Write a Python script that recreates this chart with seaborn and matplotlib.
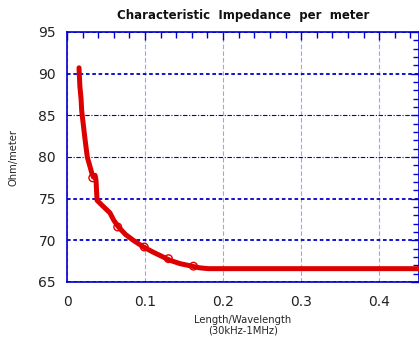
import matplotlib
matplotlib.use("Agg")
import matplotlib.pyplot as plt
import numpy as np
import pandas as pd
import seaborn as sns
from matplotlib.ticker import MultipleLocator

# curve (length/wavelength vs ohm/meter)
length_ratio = [0.0154, 0.0165, 0.0180, 0.0188, 0.0195, 0.0210, 0.0230, 0.0260,
                0.0290, 0.0320, 0.0338, 0.0360, 0.0372, 0.0385, 0.0450, 0.0550,
                0.0600, 0.0660, 0.0750, 0.0850, 0.0980, 0.1100, 0.1320, 0.1450,
                0.1600, 0.1700, 0.1810, 0.2500, 0.3000, 0.3500, 0.4000, 0.4600]
impedance = [90.7, 88.5, 87.0, 85.6, 85.0, 83.8, 82.2, 80.0,
             79.0, 78.0, 77.6, 77.8, 77.2, 74.8, 74.2, 73.3,
             72.4, 71.6, 70.7, 70.0, 69.2, 68.6, 67.6, 67.2,
             66.9, 66.7, 66.6, 66.6, 66.6, 66.6, 66.6, 66.6]

# circle markers seen along the curve
marker_x = [0.033, 0.065, 0.099, 0.130, 0.162]
marker_y = [77.5, 71.6, 69.2, 67.8, 66.9]

y_ticks = [65, 70, 75, 80, 85, 90, 95]
x_ticks = [0, 0.1, 0.2, 0.3, 0.4]
thin_grid = [80, 85]  # these two gridlines are drawn lighter in the original

sns.set_style("white")
plt.rcParams['font.family'] = ['DejaVu Sans']

fig = plt.figure(figsize=(4.19, 3.37), dpi=100)
ax = fig.add_axes([67 / 419, 1 - 282 / 337, (419 - 67) / 419, (282 - 32) / 337])

curve = pd.DataFrame({"x": length_ratio, "y": impedance})
sns.lineplot(data=curve, x="x", y="y", ax=ax, color="#dd0000", lw=3.6,
             sort=False, zorder=3)
sns.scatterplot(x=marker_x, y=marker_y, ax=ax, marker="o", s=30,
                facecolor="none", edgecolor="#dd0000", linewidth=1, zorder=4)

ax.set_xlim(0, 0.451)
ax.set_ylim(65, 95)
ax.set_xticks(x_ticks)
ax.set_xticklabels(["0", "0.1", "0.2", "0.3", "0.4"])
ax.set_yticks(y_ticks)
ax.xaxis.set_minor_locator(MultipleLocator(0.02))
ax.yaxis.set_minor_locator(MultipleLocator(1))

ax.tick_params(which="both", direction="in", top=True, right=True,
               color="#0000cc", labelcolor="#222222")
ax.tick_params(which="major", length=6, width=1)
ax.tick_params(which="minor", length=4, width=1)
ax.tick_params(axis="x", pad=9)
ax.tick_params(axis="y", pad=8)
for lbl in ax.get_xticklabels() + ax.get_yticklabels():
    lbl.set_fontsize(10)

for s in ax.spines.values():
    s.set_color("#0000cc")
    s.set_linewidth(1.2)

ax.xaxis.grid(True, which="major", color="#a0a0ff", linestyle=(0, (4, 2)), lw=0.8)
ax.yaxis.grid(True, which="major", color="#0000cc", linestyle=(0, (2, 1.5)), lw=1.3)
for val, gl in zip(y_ticks, ax.get_ygridlines()):
    if val in thin_grid:
        gl.set_linestyle((0, (4, 1.5, 1, 1.5)))
        gl.set_linewidth(0.8)

ax.set_title("Characteristic  Impedance  per  meter", fontsize=8.5,
             fontweight="bold", pad=9, color="#111111")
ax.set_xlabel("Length/Wavelength\n(30kHz-1MHz)", fontsize=7.2, labelpad=5,
              linespacing=1.05)
ax.set_ylabel("Ohm/meter", fontsize=7.2, labelpad=14)

fig.savefig("out.png", dpi=100)
